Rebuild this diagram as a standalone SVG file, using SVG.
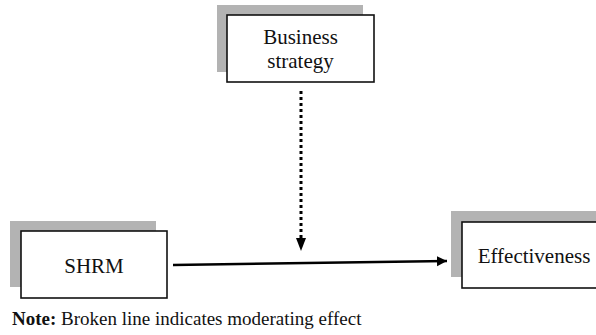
<svg xmlns="http://www.w3.org/2000/svg" width="596" height="335" viewBox="0 0 596 335">
  <style>
    .shadow { fill: #b3b3b3; }
    .box { fill: #ffffff; stroke: #111111; stroke-width: 1.6; }
    .label { font-family: "Liberation Serif", "Times New Roman", serif; font-size: 21px; fill: #111111; text-anchor: middle; }
    .note { font-family: "Liberation Serif", "Times New Roman", serif; font-size: 19px; fill: #111111; }
    .solid { stroke: #000000; stroke-width: 2.6; fill: none; }
    .dotted { stroke: #000000; stroke-width: 3; stroke-dasharray: 3 3; fill: none; }
  </style>
  <defs>
    <marker id="arrowhead" markerUnits="userSpaceOnUse" markerWidth="12" markerHeight="12" refX="10" refY="5" orient="auto">
      <path d="M0,0 L10,5 L0,10 Z" fill="#000000"/>
    </marker>
  </defs>

  <rect width="596" height="335" fill="#ffffff"/>

  <g id="business-strategy">
    <rect class="shadow" x="217" y="5" width="146" height="67"/>
    <rect class="box" x="227" y="15" width="147" height="67"/>
    <text class="label" x="300.5" y="44">Business</text>
    <text class="label" x="300.5" y="68">strategy</text>
  </g>

  <g id="shrm">
    <rect class="shadow" x="10" y="221" width="146" height="66"/>
    <rect class="box" x="21" y="231" width="146" height="67"/>
    <text class="label" x="94" y="273">SHRM</text>
  </g>

  <g id="effectiveness">
    <rect class="shadow" x="451" y="211" width="150" height="66"/>
    <rect class="box" x="462" y="222" width="146" height="66"/>
    <text class="label" x="534" y="263">Effectiveness</text>
  </g>

  <g id="connectors">
    <line class="solid" x1="173" y1="265" x2="447" y2="261" marker-end="url(#arrowhead)"/>
    <line class="dotted" x1="301" y1="91" x2="301" y2="238"/>
    <path d="M296,238 L306,238 L301,251 Z" fill="#000000"/>
  </g>

  <text class="note" x="12" y="325"><tspan font-weight="bold">Note:</tspan> Broken line indicates moderating effect</text>
</svg>
